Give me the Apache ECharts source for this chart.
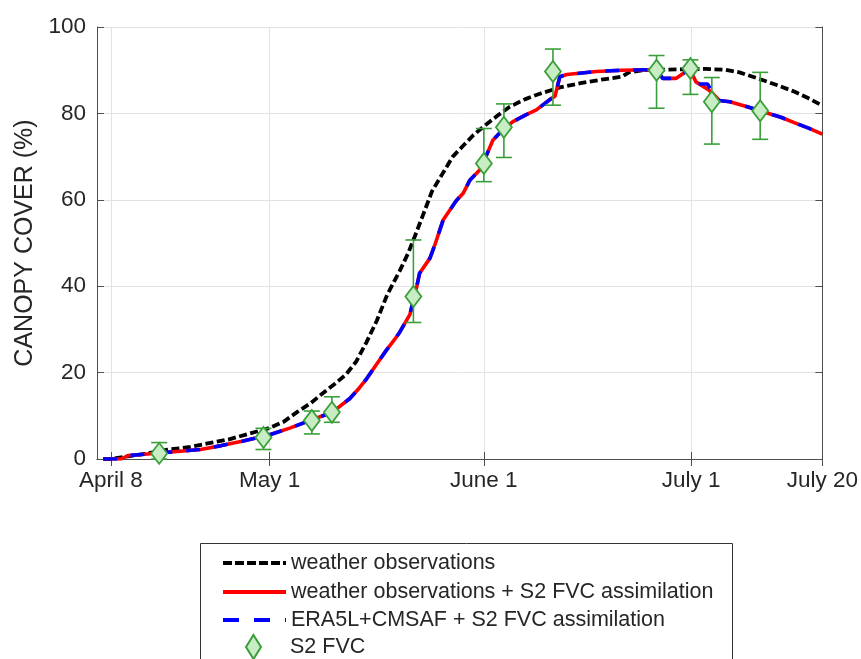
<!DOCTYPE html>
<html>
<head>
<meta charset="utf-8">
<script src="https://cdn.jsdelivr.net/npm/echarts@6/dist/echarts.min.js"></script>
<style>
html,body{margin:0;padding:0;background:#fff;}
#chart{width:861px;height:659px;}
</style>
</head>
<body>
<div id="chart"></div>
<script>
// x values are day-of-year (April 8 = 98, May 1 = 121, June 1 = 152, July 1 = 182, July 20 = 201)
var tickDays = [98, 121, 152, 182, 201];
var tickLabels = ['April 8', 'May 1', 'June 1', 'July 1', 'July 20'];

var weatherDays = [96.9, 98, 100, 103, 106, 109.5, 112, 115, 119, 121, 123, 125, 127, 128.5, 130.5, 132, 133.5, 135, 136.5, 138, 139.8, 141, 142, 143.2, 144.5, 146, 147.5, 149, 150.5, 152, 154, 155.7, 158, 160, 163, 166, 169, 172, 173, 175, 180, 184, 187, 189, 192, 194.5, 197, 199, 201];
var weatherVals = [0, 0, 0.5, 1.2, 2.1, 2.8, 3.6, 4.5, 6.3, 7.2, 8.6, 10.9, 13, 15, 17.5, 19.5, 22.5, 27, 32, 38, 43.5, 47.5, 51.5, 56.5, 62, 66, 70, 72.5, 75, 77, 79.5, 81.5, 83.3, 84.5, 86, 87, 87.8, 88.5, 89.5, 90, 90.2, 90.3, 90.1, 89.5, 87.9, 86.5, 85, 83.5, 81.8];

var assimDays = [96.9, 99.5, 100.5, 102, 105, 108, 111, 114, 117, 121, 124, 126.3, 128, 129.7, 131, 132.6, 134, 135, 136.5, 137.9, 139, 139.8, 141.3, 142.3, 142.7, 144.2, 145, 146.1, 148, 149, 150, 151.4, 152.3, 153.3, 154.5, 156.2, 158, 159.6, 161.8, 162.3, 163, 164, 168.3, 172, 175.5, 177, 177.9, 179.8, 181.8, 182.7, 184.5, 185.2, 186.1, 187.6, 190, 192.4, 195, 197.2, 199, 201];
var assimVals = [0, 0, 0.8, 1.0, 1.4, 1.8, 2.2, 3.1, 4.1, 5.6, 7.2, 8.6, 9.6, 10.6, 12, 14, 16.5, 18.5, 22, 25.2, 27.5, 29.3, 33.5, 40, 43, 46.5, 50, 55.3, 59.8, 61.5, 64.6, 66.9, 70, 73.8, 75.8, 78.1, 79.6, 80.8, 83.5, 84, 88.5, 89, 89.7, 90, 90.1, 90, 88.1, 88.1, 90.3, 87.3, 85.5, 84.5, 83, 82.7, 81.6, 80.4, 79.1, 77.7, 76.6, 75.2];

var eraDays = [96.9, 99.5, 100.5, 102, 105, 108, 111, 114, 117, 121, 124, 126.3, 128, 129.7, 131, 132.6, 134, 135, 136.5, 137.9, 139, 139.8, 141.3, 142.3, 142.7, 144.2, 145, 146.1, 148, 149, 150, 151.4, 152.3, 153.3, 154.5, 156.2, 158, 159.6, 161.8, 162.3, 163, 164, 168.3, 172, 175.5, 177, 177.9, 179.8, 181.8, 182.4, 184.4, 185.2, 186.1, 187.6, 190, 192.4, 195, 197.2, 199, 201];
var eraVals = [0, 0, 0.8, 1.0, 1.4, 1.8, 2.2, 3.1, 4.1, 5.6, 7.2, 8.6, 9.6, 10.6, 12, 14, 16.5, 18.5, 22, 25.2, 27.5, 29.3, 33.5, 40, 43, 46.5, 50, 55.3, 59.8, 61.5, 64.6, 66.9, 70, 73.8, 75.8, 78.1, 79.6, 80.8, 83.5, 84, 88.5, 89, 89.7, 90, 90.1, 90, 88.1, 88.1, 90.3, 86.8, 86.8, 84.5, 83, 82.7, 81.6, 80.4, 79.1, 77.7, 76.6, 75.2];

var fvcDays = [105, 120.1, 127.1, 130, 141.8, 152, 154.9, 162, 177, 181.9, 185, 192];
var fvcVals = [1.3, 5.0, 8.9, 10.8, 37.6, 68.4, 76.8, 89.7, 90, 90.4, 82.7, 80.6];
var fvcLow = [0, 2.2, 5.8, 8.5, 31.6, 64.2, 69.8, 81.9, 81.2, 84.4, 72.9, 74];
var fvcHigh = [3.8, 7.1, 11.1, 14.4, 50.7, 76.5, 82.2, 94.9, 93.4, 92.4, 88.3, 89.5];

var seriesNames = ['weather observations', 'weather observations + S2 FVC assimilation', 'ERA5L+CMSAF + S2 FVC assimilation', 'S2 FVC'];

function pairs(xs, ys) { return xs.map(function (x, i) { return [x, ys[i]]; }); }

var FONT = 'Liberation Sans, Arial, sans-serif';
var TXT = '#262626';
var AX = '#4d4d4d';
var GREEN = '#3a9f3a';

var chart = echarts.init(document.getElementById('chart'), null, { renderer: 'canvas' });

var xBase = {
  type: 'value', min: 96, max: 201,
  axisLine: { show: true, lineStyle: { color: AX, width: 1 } },
  axisTick: { show: true, inside: true, length: 7, lineStyle: { color: AX }, customValues: tickDays },
  splitLine: { show: false }
};
var yBase = {
  type: 'value', min: 0, max: 100, interval: 20,
  axisLine: { show: true, lineStyle: { color: AX, width: 1 } },
  axisTick: { show: true, inside: true, length: 7, lineStyle: { color: AX } },
  splitLine: { show: false }
};

var legendRowCenters = [562, 591, 619, 646];
var legendLineTypes = [[9, 3], 'solid', [16, 15]];
function makeLegend(i) {
  var isScatter = i === 3;
  var item = { name: seriesNames[i] };
  var lg = {
    show: true, orient: 'vertical',
    data: [item], padding: 0,
    selectedMode: false,
    textStyle: { fontSize: 21.5, color: TXT, fontFamily: FONT }
  };
  if (isScatter) {
    item.icon = 'path://M0,-12 L7.5,0 L0,12 L-7.5,0 Z';
    lg.left = 245; lg.top = legendRowCenters[i] - 12;
    lg.itemWidth = 15; lg.itemHeight = 24;
    lg.textStyle.padding = [0, 0, 0, 24];
  } else {
    lg.left = 221; lg.top = legendRowCenters[i] - 10;
    lg.itemWidth = 63; lg.itemHeight = 20;
    lg.itemStyle = { opacity: 0 };
    lg.lineStyle = { width: 4, type: legendLineTypes[i] };
  }
  return lg;
}

var option = {
  animation: false,
  backgroundColor: '#fff',
  textStyle: { fontFamily: FONT },
  grid: { left: 97, right: 38, top: 27, bottom: 200, containLabel: false },
  graphic: [{
    type: 'rect', z: -1, silent: true,
    shape: { x: 200.5, y: 543.5, width: 532, height: 140 },
    style: { fill: '#fff', stroke: '#333', lineWidth: 1 }
  }],
  xAxis: [
    Object.assign({}, xBase, {
      position: 'bottom',
      axisLabel: {
        show: true, customValues: tickDays, margin: 10,
        fontSize: 22.5, color: TXT, fontFamily: FONT,
        formatter: function (v) { var i = tickDays.indexOf(v); return i >= 0 ? tickLabels[i] : ''; }
      },
      splitLine: { show: true, lineStyle: { color: '#e3e3e3', width: 1 } }
    }),
    Object.assign({}, xBase, { position: 'top', axisLabel: { show: false } })
  ],
  yAxis: [
    Object.assign({}, yBase, {
      position: 'left',
      name: 'CANOPY COVER (%)', nameLocation: 'middle', nameGap: 53,
      nameTextStyle: { fontSize: 25, color: TXT, fontFamily: FONT },
      axisLabel: { show: true, margin: 11, fontSize: 22.5, color: TXT, fontFamily: FONT },
      splitLine: { show: true, lineStyle: { color: '#e3e3e3', width: 1 } }
    }),
    Object.assign({}, yBase, { position: 'right', axisLabel: { show: false } })
  ],
  legend: [makeLegend(0), makeLegend(1), makeLegend(2), makeLegend(3)],
  series: [
    {
      name: seriesNames[0], type: 'line', xAxisIndex: 0, yAxisIndex: 0,
      data: pairs(weatherDays, weatherVals), showSymbol: false, symbol: 'none', smooth: false,
      lineStyle: { color: '#000', width: 3.8, type: [8, 3.5] }, itemStyle: { color: '#000' }, z: 2
    },
    {
      name: seriesNames[1], type: 'line',
      data: pairs(assimDays, assimVals), showSymbol: false, symbol: 'none',
      lineStyle: { color: '#ff0000', width: 3.6, type: 'solid' }, itemStyle: { color: '#ff0000' }, z: 3
    },
    {
      name: seriesNames[2], type: 'line',
      data: pairs(eraDays, eraVals), showSymbol: false, symbol: 'none',
      lineStyle: { color: '#0000ff', width: 3.6, type: [14, 14] }, itemStyle: { color: '#0000ff' }, z: 4
    },
    {
      name: 'error', type: 'custom', z: 5, clip: false,
      data: fvcDays.map(function (d, i) { return [d, fvcLow[i], fvcHigh[i]]; }),
      renderItem: function (params, api) {
        var lo = api.coord([api.value(0), api.value(1)]);
        var hi = api.coord([api.value(0), api.value(2)]);
        var w = 8;
        var st = { stroke: GREEN, lineWidth: 1.6 };
        return {
          type: 'group',
          children: [
            { type: 'line', shape: { x1: lo[0], y1: lo[1], x2: hi[0], y2: hi[1] }, style: st },
            { type: 'line', shape: { x1: lo[0] - w, y1: lo[1], x2: lo[0] + w, y2: lo[1] }, style: st },
            { type: 'line', shape: { x1: hi[0] - w, y1: hi[1], x2: hi[0] + w, y2: hi[1] }, style: st }
          ]
        };
      },
      tooltip: { show: false }
    },
    {
      name: seriesNames[3], type: 'scatter', z: 6,
      data: pairs(fvcDays, fvcVals),
      symbol: 'diamond', symbolSize: [16, 21],
      itemStyle: { color: '#c8ecc4', borderColor: GREEN, borderWidth: 1.8, opacity: 1 }
    }
  ]
};
chart.setOption(option);
</script>
</body>
</html>
